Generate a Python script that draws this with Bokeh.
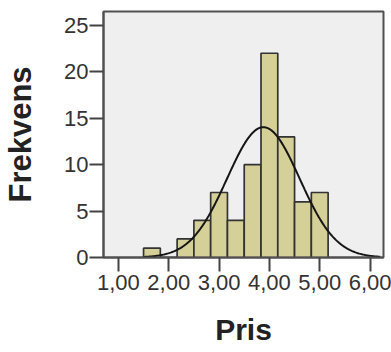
import numpy as np
from bokeh.plotting import figure
from bokeh.models import FixedTicker, Range1d
from bokeh.embed import file_html
from bokeh.resources import INLINE

# Histogram data (bin width 1/3, starting at 1.5)
bin_left = [1.5, 1.8333, 2.1667, 2.5, 2.8333, 3.1667, 3.5, 3.8333, 4.1667, 4.5, 4.8333]
bin_right = [1.8333, 2.1667, 2.5, 2.8333, 3.1667, 3.5, 3.8333, 4.1667, 4.5, 4.8333, 5.1667]
counts = [1, 0, 2, 4, 7, 4, 10, 22, 13, 6, 7]

# Fitted normal curve parameters
fit_mean = 3.88
fit_sd = 0.72
fit_n = 76
fit_binwidth = 1.0 / 3.0

x_ticks = [1, 2, 3, 4, 5, 6]
x_tick_labels = ["1,00", "2,00", "3,00", "4,00", "5,00", "6,00"]
y_ticks = [0, 5, 10, 15, 20, 25]

p = figure(width=391, height=352, output_backend="svg", toolbar_location=None,
           x_range=Range1d(0.704, 6.267), y_range=Range1d(0, 26.5),
           min_border_left=101, min_border_right=8, min_border_top=11, min_border_bottom=95)

p.background_fill_color = "#EFEFEF"
p.border_fill_color = "white"
p.outline_line_color = "#505050"
p.outline_line_width = 2
p.grid.visible = False

p.quad(left=bin_left, right=bin_right, bottom=0, top=counts,
       fill_color="#D5CF98", line_color="#333333", line_width=1.7)

xs = np.linspace(1.5, 6.2, 300)
ys = fit_n * fit_binwidth / (fit_sd * np.sqrt(2 * np.pi)) * np.exp(-0.5 * ((xs - fit_mean) / fit_sd) ** 2)
p.line(xs, ys, line_color="#151515", line_width=2)

for ax in (p.xaxis, p.yaxis):
    ax.axis_line_color = "#505050"
    ax.axis_line_width = 2
    ax.major_tick_line_color = "#444444"
    ax.major_tick_line_width = 2
    ax.minor_tick_line_color = None
    ax.major_tick_in = 0
    ax.major_tick_out = 14
    ax.major_label_text_font = "Liberation Sans"
    ax.major_label_text_font_size = "22px"
    ax.major_label_text_color = "#333333"
    ax.axis_label_text_font = "Liberation Sans"
    ax.axis_label_text_font_style = "bold"
    ax.axis_label_text_color = "#222222"

p.xaxis.ticker = FixedTicker(ticks=x_ticks)
p.xaxis.major_label_overrides = {t: l for t, l in zip(x_ticks, x_tick_labels)}
p.xaxis.major_label_standoff = 3
p.xaxis.axis_label = "Pris"
p.xaxis.axis_label_text_font_size = "30px"
p.xaxis.axis_label_standoff = 20

p.yaxis.ticker = FixedTicker(ticks=y_ticks)
p.yaxis.major_label_standoff = 1
p.yaxis.axis_label = "Frekvens"
p.yaxis.axis_label_text_font_size = "31px"
p.yaxis.axis_label_standoff = 23

open("out.html", "w").write(file_html(p, INLINE))
